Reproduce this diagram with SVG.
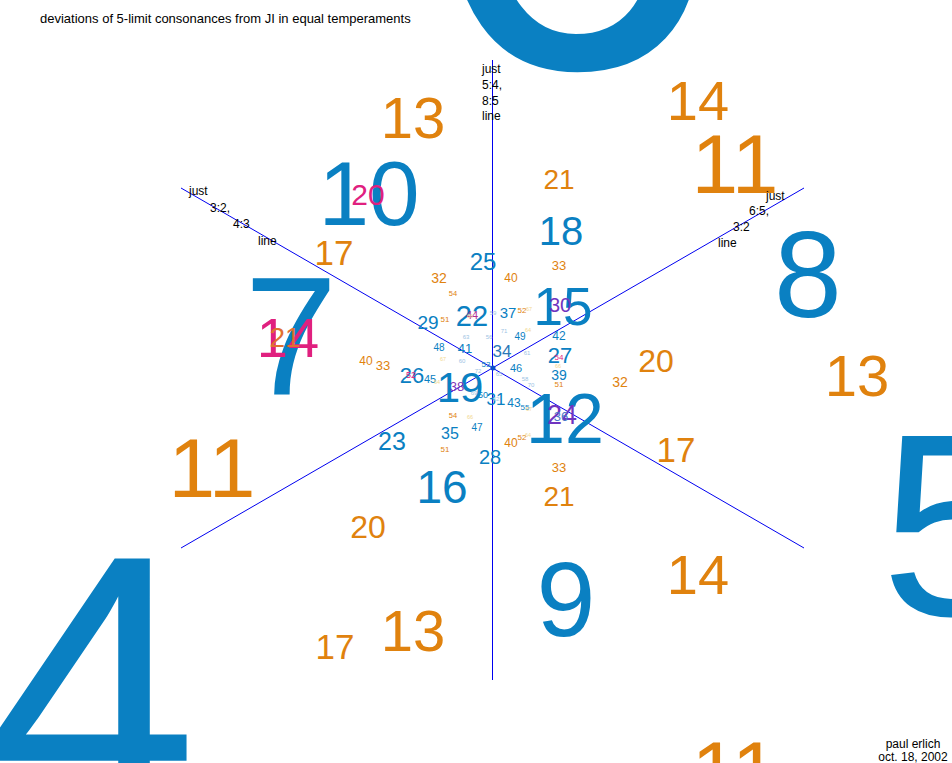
<svg xmlns="http://www.w3.org/2000/svg" width="952" height="763" viewBox="0 0 952 763">
<style>
text{font-family:"Liberation Sans",Arial,sans-serif;text-anchor:middle}
.b{fill:#0a80c2}
.o{fill:#e0820e}
.pk{fill:#e0207f}
.pu{fill:#7034c0}
.fb{fill:#9cc4e4}
.fy{fill:#f2d890}
.lab{fill:#000;font-size:12px;text-anchor:start}
.axis{stroke:#0000f0;stroke-width:1;fill:none}
</style>
<rect width="952" height="763" fill="#fff"/>
<g id="connectors">
<line class="axis" x1="492.5" y1="60" x2="492.5" y2="680"/>
<line class="axis" x1="181" y1="188" x2="804" y2="548"/>
<line class="axis" x1="804" y1="188" x2="181" y2="548"/>
</g>
<g id="n4"><text class="b" x="92" y="820" font-size="380">4</text></g>
<g id="n5"><text class="b" x="953" y="615" font-size="260">5</text></g>
<g id="n6"><text class="b" x="571" y="67" font-size="540">6</text></g>
<g id="n7"><text class="b" x="291" y="395" font-size="168">7</text></g>
<g id="n8"><text class="b" x="808" y="317" font-size="122">8</text></g>
<g id="n9"><text class="b" x="566" y="636" font-size="106">9</text></g>
<g id="n10"><text class="b" x="369" y="225" font-size="91">10</text></g>
<g id="n11">
<text class="o" x="212" y="497" font-size="84">11</text>
<text class="o" x="735" y="193" font-size="84">11</text>
<text class="o" x="735" y="800" font-size="84">11</text>
</g>
<g id="n12"><text class="b" x="565" y="443" font-size="70">12</text></g>
<g id="n13">
<text class="o" x="413" y="138" font-size="58">13</text>
<text class="o" x="857" y="396" font-size="58">13</text>
<text class="o" x="413" y="651" font-size="58">13</text>
</g>
<g id="n14">
<text class="o" x="698" y="120" font-size="56">14</text>
<text class="o" x="698" y="594" font-size="56">14</text>
<text class="pk" x="288" y="357" font-size="56">14</text>
</g>
<g id="n15"><text class="b" x="563" y="325" font-size="53">15</text></g>
<g id="n16"><text class="b" x="442" y="503" font-size="46">16</text></g>
<g id="n17">
<text class="o" x="334" y="265" font-size="35">17</text>
<text class="o" x="676" y="462" font-size="35">17</text>
<text class="o" x="335" y="659" font-size="35">17</text>
</g>
<g id="n18"><text class="b" x="561" y="245" font-size="40">18</text></g>
<g id="n19"><text class="b" x="460" y="402" font-size="42">19</text></g>
<g id="n20">
<text class="o" x="656" y="372" font-size="32">20</text>
<text class="o" x="368" y="538" font-size="32">20</text>
<text class="pk" x="368" y="205" font-size="30">20</text>
</g>
<g id="n21">
<text class="o" x="559" y="189" font-size="28">21</text>
<text class="o" x="559" y="506" font-size="28">21</text>
<text x="285" y="347" font-size="28" fill="#e07030">21</text>
</g>
<g id="n22"><text class="b" x="472" y="326" font-size="29">22</text></g>
<g id="n23"><text class="b" x="392" y="450" font-size="25">23</text></g>
<g id="n24"><text class="pu" x="562" y="424" font-size="27">24</text></g>
<g id="n25"><text class="b" x="483" y="270" font-size="24">25</text></g>
<g id="n26"><text class="b" x="412" y="383" font-size="22">26</text></g>
<g id="n27"><text class="b" x="560" y="363" font-size="22">27</text></g>
<g id="n28"><text class="b" x="490" y="464" font-size="20">28</text></g>
<g id="n29"><text class="b" x="428" y="329" font-size="19">29</text></g>
<g id="n30"><text class="pu" x="560" y="312" font-size="20">30</text></g>
<g id="n31"><text class="b" x="496" y="405" font-size="17">31</text></g>
<g id="n32">
<text class="o" x="439" y="283" font-size="14">32</text>
<text class="o" x="620" y="387" font-size="14">32</text>
</g>
<g id="n33">
<text class="o" x="559" y="270" font-size="13">33</text>
<text class="o" x="383" y="370" font-size="13">33</text>
<text class="o" x="559" y="472" font-size="13">33</text>
</g>
<g id="n34"><text x="502" y="357" font-size="17" fill="#2a78b8">34</text></g>
<g id="n35"><text class="b" x="450" y="439" font-size="16">35</text></g>
<g id="n36"><text x="561" y="421" font-size="13" fill="#4a78c8">36</text></g>
<g id="n37"><text class="b" x="508" y="318" font-size="15">37</text></g>
<g id="n38"><text x="457" y="391" font-size="13" fill="#8034b8">38</text></g>
<g id="n39"><text class="b" x="559" y="380" font-size="14">39</text></g>
<g id="n40">
<text class="o" x="511" y="282" font-size="12">40</text>
<text class="o" x="366" y="365" font-size="12">40</text>
<text class="o" x="511" y="447" font-size="12">40</text>
</g>
<g id="n41"><text class="b" x="465" y="353" font-size="13">41</text></g>
<g id="n42"><text class="b" x="559" y="340" font-size="12">42</text></g>
<g id="n43"><text class="b" x="514" y="407" font-size="12">43</text></g>
<g id="n44"><text x="472" y="319" font-size="11" fill="#b03090">44</text></g>
<g id="n45"><text class="b" x="430" y="383" font-size="11">45</text></g>
<g id="n46"><text class="b" x="516" y="372" font-size="11">46</text></g>
<g id="n47"><text class="b" x="477" y="431" font-size="10">47</text></g>
<g id="n48"><text class="b" x="439" y="351" font-size="10">48</text></g>
<g id="n49"><text class="b" x="520" y="340" font-size="10">49</text></g>
<g id="n50"><text class="b" x="483" y="398" font-size="9">50</text></g>
<g id="n51">
<text class="o" x="445" y="322" font-size="8">51</text>
<text class="o" x="445" y="452" font-size="8">51</text>
<text class="o" x="559" y="387" font-size="8">51</text>
</g>
<g id="n52">
<text class="o" x="522" y="313" font-size="8">52</text>
<text class="o" x="522" y="440" font-size="8">52</text>
<text class="pk" x="411" y="378" font-size="9">52</text>
</g>
<g id="n53"><text class="b" x="486" y="367" font-size="8">53</text></g>
<g id="n54">
<text class="o" x="453" y="296" font-size="7.5">54</text>
<text class="o" x="453" y="418" font-size="7.5">54</text>
<text class="pk" x="559" y="360" font-size="8">54</text>
</g>
<g id="n55"><text class="b" x="525" y="410" font-size="8">55</text></g>
<g id="n56"><text class="fb" x="489" y="339" font-size="6">56</text></g>
<g id="n58"><text class="fb" x="525" y="381" font-size="6">58</text></g>
<g id="n59"><text class="fb" x="493" y="315" font-size="6">59</text></g>
<g id="n60"><text class="fb" x="462" y="363" font-size="6">60</text></g>
<g id="n61"><text class="fb" x="527" y="355" font-size="6">61</text></g>
<g id="n62"><text class="fb" x="496" y="401" font-size="6">62</text></g>
<g id="n63"><text class="fb" x="466" y="339" font-size="6">63</text></g>
<g id="n64">
<text class="fy" x="528" y="437" font-size="5.5">64</text>
<text class="fy" x="437" y="384" font-size="5.5">64</text>
<text class="fy" x="528" y="332" font-size="5.5">64</text>
</g>
<g id="n65"><text class="fb" x="499" y="376" font-size="6">65</text></g>
<g id="n66">
<text class="fy" x="470" y="318" font-size="5.5">66</text>
<text class="fy" x="558" y="368" font-size="5.5">66</text>
<text class="fy" x="470" y="419" font-size="5.5">66</text>
</g>
<g id="n67">
<text class="fy" x="529" y="411" font-size="5.5">67</text>
<text class="fy" x="443" y="361" font-size="5.5">67</text>
<text class="fy" x="529" y="311" font-size="5.5">67</text>
</g>
<g id="n69"><text class="fb" x="474" y="395" font-size="6">69</text></g>
<g id="n70"><text class="fb" x="531" y="387" font-size="6">70</text></g>
<g id="n71"><text class="fb" x="504" y="333" font-size="6">71</text></g>
<g id="n72"><text class="fb" x="478" y="373" font-size="6">72</text></g>
<g id="center"><circle cx="493" cy="368" r="2.5" fill="#0a50c8"/></g>
<g id="labels">
<text class="lab" x="40" y="23" font-size="13" style="font-size:13px">deviations of 5-limit consonances from JI in equal temperaments</text>
<text class="lab" x="482" y="73">just</text>
<text class="lab" x="482" y="89">5:4,</text>
<text class="lab" x="482" y="105">8:5</text>
<text class="lab" x="482" y="120">line</text>
<text class="lab" x="189" y="195">just</text>
<text class="lab" x="210" y="212">3:2,</text>
<text class="lab" x="233" y="228">4:3</text>
<text class="lab" x="258" y="245">line</text>
<text class="lab" x="766" y="200">just</text>
<text class="lab" x="749" y="215">6:5,</text>
<text class="lab" x="733" y="231">3:2</text>
<text class="lab" x="718" y="247">line</text>
<text x="913" y="748" font-size="12" fill="#000">paul erlich</text>
<text x="913" y="761" font-size="12" fill="#000">oct. 18, 2002</text>
</g>
</svg>
